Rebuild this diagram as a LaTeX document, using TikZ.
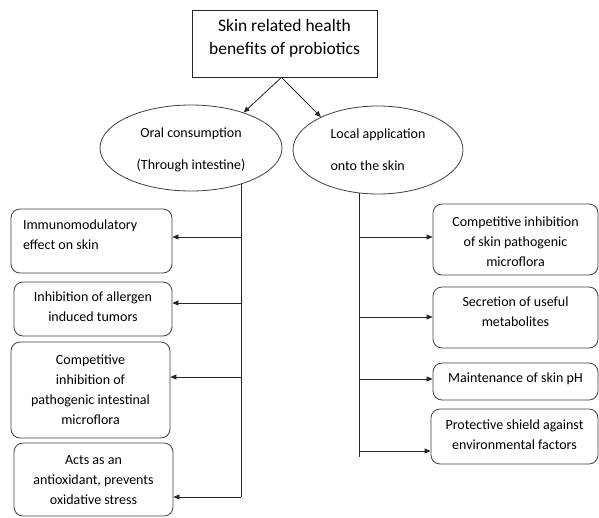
\documentclass[tikz,border=0pt]{standalone}
\usepackage{fontspec}
\setmainfont{Carlito}
\usetikzlibrary{arrows.meta,shapes.geometric}
\newcommand\tx[3]{\raisebox{#1}[0pt][0pt]{\begin{tabular}{@{}#2@{}}#3\end{tabular}}}
\tikzset{
  rbox/.style={draw=black!75, line width=0.8pt, rounded corners=9pt, inner sep=0pt,
    font=\fontsize{14}{20}\selectfont},
  topbox/.style={draw=black!85, line width=0.8pt, inner sep=0pt,
    font=\fontsize{17.5}{23}\selectfont},
  oval/.style={draw=black!75, line width=0.8pt, ellipse, inner sep=0pt,
    font=\fontsize{14}{32}\selectfont},
  arr/.style={draw=black!85, line width=0.8pt, -{Triangle[length=6pt,width=5pt]}},
  spine/.style={draw=black!85, line width=0.8pt}
}
\begin{document}
\begin{tikzpicture}[x=1pt,y=-1pt]
\useasboundingbox (0,0) rectangle (599,517);
% top
\node[topbox, minimum width=185pt, minimum height=67pt] (top) at (284.5,43.5)
  {\tx{0.5pt}{c}{Skin related health\\benefits of probiotics}};
% ellipses
\node[oval, minimum width=182pt, minimum height=86pt] (oral) at (191,148)
  {\tx{-2.2pt}{c}{Oral consumption\\(Through intestine)}};
\node[oval, minimum width=170pt, minimum height=88pt] (local) at (378,150)
  {\tx{-1.2pt}{l}{Local application\\onto the skin}};
\draw[arr] ([xshift=-3pt]top.south) -- (oral.34);
\draw[arr] ([xshift=-3pt]top.south) -- (local.150);
% left boxes
\node[rbox, minimum width=161pt, minimum height=64pt] (L1) at (91.5,241)
  {\makebox[137pt][l]{\tx{2.3pt}{l}{Immunomodulatory\\effect on skin}}};
\node[rbox, minimum width=158pt, minimum height=54pt] (L2) at (93,309)
  {\tx{-2.2pt}{c}{Inhibition of allergen\\induced tumors}};
\node[rbox, minimum width=159pt, minimum height=96pt] (L3) at (90.5,390)
  {\tx{-4.2pt}{c}{Competitive\\inhibition of\\pathogenic intestinal\\microflora}};
\node[rbox, minimum width=159pt, minimum height=73pt] (L4) at (93.5,479.5)
  {\tx{-4.2pt}{c}{Acts as an\\antioxidant, prevents\\oxidative stress}};
% right boxes
\node[rbox, minimum width=165pt, minimum height=71pt] (R1) at (515.5,239.5)
  {\tx{-6.2pt}{c}{Competitive inhibition\\of skin pathogenic\\microflora}};
\node[rbox, minimum width=165pt, minimum height=61pt] (R2) at (515.5,317.5)
  {\tx{1.3pt}{c}{Secretion of useful\\metabolites}};
\node[rbox, minimum width=165pt, minimum height=37pt] (R3) at (515.5,381.5)
  {\tx{-0.7pt}{c}{Maintenance of skin pH}};
\node[rbox, minimum width=167pt, minimum height=55pt] (R4) at (514.5,436.5)
  {\tx{-2.7pt}{c}{Protective shield against\\environmental factors}};
% left spine
\coordinate (lend) at (241,497);
\draw[spine] (lend |- oral.-36) -- (lend);
\coordinate (la) at (241,237);
\coordinate (lb) at (241,303);
\coordinate (lc) at (241,377);
\draw[arr] (la) -- (la -| L1.east);
\draw[arr] (lb) -- (lb -| L2.east);
\draw[arr] (lc) -- (lc -| L3.east);
\draw[arr] (lend) -- (lend -| L4.east);
% right spine
\coordinate (rend) at (359,457);
\draw[spine] (rend |- local.246) -- (rend);
\coordinate (ra) at (359,237);
\coordinate (rb) at (359,317);
\coordinate (rc) at (359,379);
\coordinate (rd) at (359,451);
\draw[arr] (ra) -- (ra -| R1.west);
\draw[arr] (rb) -- (rb -| R2.west);
\draw[arr] (rc) -- (rc -| R3.west);
\draw[arr] (rd) -- (rd -| R4.west);
\end{tikzpicture}
\end{document}
